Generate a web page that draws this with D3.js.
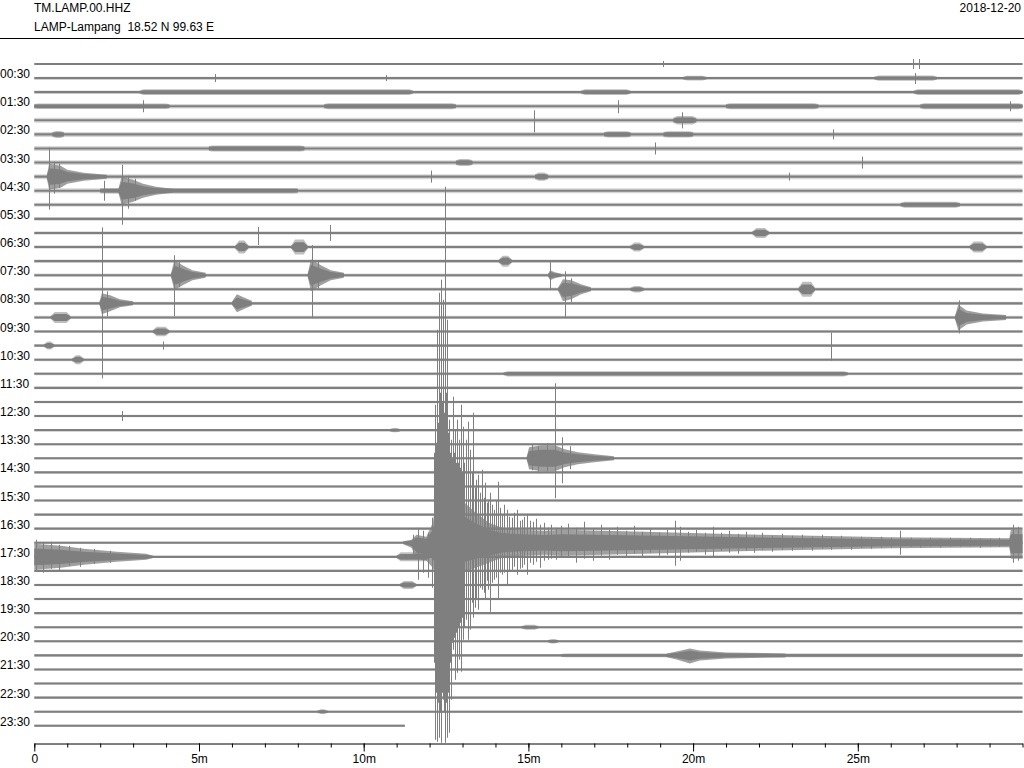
<!DOCTYPE html>
<html><head><meta charset="utf-8">
<script src="https://cdn.jsdelivr.net/npm/d3@7"></script>
<style>
body{margin:0;background:#fff}
svg{display:block}
text{font-family:"Liberation Sans",Arial,Helvetica,sans-serif;font-size:12px;fill:#000}
</style>
</head><body>
<svg id="chart" width="1024" height="768"></svg>
<script>
// ---------- DATA ----------
const stationLabel = "TM.LAMP.00.HHZ";
const siteLabel = "LAMP-Lampang  18.52 N 99.63 E";
const dateLabel = "2018-12-20";
const hourLabels = ["00:30","01:30","02:30","03:30","04:30","05:30","06:30","07:30","08:30","09:30","10:30","11:30",
  "12:30","13:30","14:30","15:30","16:30","17:30","18:30","19:30","20:30","21:30","22:30","23:30"];
const minuteTicks = d3.range(0, 31);
const majorTicks = [0, 5, 10, 15, 20, 25];
const lineIndex = d3.range(48);            // one trace per 30 minutes
const lineMinutes = 30;
const lastLineEnd = 11.25;                  // last trace stops at 11.25 min

// background noise half-amplitude per trace (counts)
const noiseLevel = [110,130,170,230,250,250,240,240,250,250,200,180,170,170,170,170,170,160,160,150,150,150,150,130,
  120,120,120,120,120,120,120,120,120,120,120,120,120,120,120,120,120,120,130,120,120,120,120,120];

// noisy stretches: [line, startMin, endMin, amplitude]
const bursts = [
  [1,19.7,20.4,230],[1,25.5,27.4,260],
  [2,3.2,11.5,290],[2,16.6,18.1,290],[2,26.7,30,290],
  [3,0,4.1,270],[3,8.8,12.8,290],[3,21.0,23.8,290],[3,26.9,30,290],
  [4,19.4,20.1,420],
  [5,0.55,0.9,350],[5,17.3,18.1,320],[5,19.1,20.0,320],
  [6,5.3,8.2,300],[7,12.8,13.3,350],[8,15.2,15.6,420],[9,2.0,8.0,280],
  [10,26.3,28.1,300],
  [12,21.8,22.3,500],
  [13,6.1,6.5,650],[13,7.8,8.3,750],[13,18.1,18.5,450],[13,28.4,28.9,550],
  [14,14.1,14.5,550],[16,18.1,18.5,320],[16,23.2,23.7,750],
  [18,0.5,1.1,550],[19,3.6,4.1,480],[20,0.3,0.6,400],[21,1.15,1.5,450],
  [22,14.25,24.7,260],[26,10.8,11.1,220],[35,11.0,12.0,450],[37,11.1,11.6,400],
  [40,14.8,15.3,240],[41,15.6,15.9,220],[42,16.0,30,180],[46,8.6,8.9,240]
];

// event envelopes: [line, [[minute, up, down], ...]]
const envelopes = [
  [8,[[0.38,150,150],[0.45,1300,1300],[0.8,1100,1100],[1.0,700,700],[1.5,400,400],[2.2,200,200]]],
  [9,[[2.55,150,150],[2.65,1400,1400],[3.0,1100,1100],[3.3,700,700],[3.7,400,400],[4.2,200,200]]],
  [15,[[4.15,150,150],[4.25,1500,1500],[4.5,1000,1000],[4.8,500,500],[5.2,250,250]]],
  [15,[[8.3,150,150],[8.4,1600,1600],[8.7,1000,1000],[9.0,500,500],[9.4,250,250]]],
  [15,[[15.6,150,150],[15.66,500,500],[15.8,300,300],[16.0,150,150]]],
  [16,[[15.9,150,150],[16.05,1000,1200],[16.3,900,1000],[16.6,500,500],[16.9,200,200]]],
  [17,[[1.98,150,150],[2.05,1000,1100],[2.3,800,800],[2.6,400,400],[3.0,200,200]]],
  [17,[[6.0,150,150],[6.15,900,900],[6.35,600,600],[6.6,250,250]]],
  [18,[[27.95,150,150],[28.05,1300,1300],[28.3,700,700],[28.8,400,400],[29.5,250,250]]],
  [28,[[14.95,150,150],[15.02,1100,1100],[15.4,1300,1300],[15.8,1300,1300],[16.1,900,900],[16.5,600,600],[17.0,400,400],[17.6,200,200]]],
  [34,[[11.2,150,150],[11.45,300,500],[11.6,800,1500],[11.9,600,1800],[12.1,2000,2500],[12.2,4500,3500],[12.6,5000,3500],
       [13.0,4200,3000],[13.4,3000,2500],[13.8,2000,2000],[14.2,1500,1500],[14.8,1300,1300],[15.5,1200,1200],[16.0,1300,1300],
       [18.5,1100,1100],[22.0,800,800],[26.0,550,550],[29.6,450,450],[29.65,1300,1600],[30,1300,1600]]],
  [35,[[0,1300,1300],[0.8,1100,1100],[1.5,800,800],[2.5,500,500],[3.4,300,300],[3.6,120,120]]],
  [42,[[19.2,180,180],[19.5,400,400],[19.9,700,800],[20.2,500,500],[21.0,300,300],[22.8,200,200]]]
];

// single spikes: [line, minute, up, down]
const spikes = [
  [0,19.09,300,300],[0,26.68,500,500],[0,26.86,500,500],
  [1,5.49,400,400],[1,10.68,300,300],[1,26.74,500,600],
  [3,3.30,600,600],[3,17.72,600,700],[3,29.62,500,500],
  [4,15.17,1000,1200],[4,19.66,800,800],[5,24.25,500,500],
  [6,18.84,600,600],[7,25.13,600,600],
  [8,0.44,2900,3300],[8,0.6,1500,1700],[8,0.75,1300,1100],[8,12.04,600,600],[8,22.9,400,400],
  [9,2.12,1000,1000],[9,2.66,2600,3400],[9,2.85,1500,1800],[9,3.05,1200,1000],
  [12,6.79,600,1200],[12,8.98,800,800],
  [15,4.25,2000,4100],[15,4.4,1400,1200],[15,8.42,3000,4300],[15,8.6,1500,1300],[15,15.66,1400,1400],
  [16,16.1,1800,2800],[16,16.3,1100,1300],[17,2.06,7600,7500],[17,2.2,1200,1300],[18,28.08,1700,1600],
  [20,3.9,400,400],[20,24.18,1300,1500],[25,2.66,500,500],
  [28,15.1,1400,1200],[28,15.3,1200,1500],[28,15.55,1500,1300],[28,15.82,7500,4000],[28,16.03,2100,2500],[28,16.25,1200,1100],
  [35,0.05,1700,1500],[35,0.25,1400,1600],[35,0.5,1500,1200],[35,0.75,1200,1400],[35,1.05,1100,900],[35,1.4,900,1000],[35,1.8,800,700],[35,2.3,600,600]
];

// main earthquake on trace 34: [minute, up, down]
const quakeLine = 34;
const quakeSpikes = [
  [11.50,800,1200],[11.65,1500,3700],[11.80,1200,3000],[11.95,1000,3500],[12.07,2500,4500],
  [12.13,9000,12000],[12.16,13800,19700],[12.19,10000,15000],[12.23,21300,19900],[12.26,12000,16000],
  [12.29,25000,19500],[12.32,15000,17000],[12.35,26300,20000],[12.38,14000,15000],[12.41,24300,15700],
  [12.44,13000,17000],[12.47,35600,20000],[12.50,15000,16000],[12.53,22300,19500],[12.56,11000,15000],
  [12.59,12300,19000],[12.62,9000,12000],[12.65,10300,15700],[12.68,8500,10000],[12.71,14600,10700],
  [12.74,9000,9500],[12.77,11300,13700],[12.80,8000,9000],[12.83,12300,13000],[12.86,8000,8500],
  [12.89,10300,11700],[12.92,7500,8000],[12.95,13800,12900],[12.98,7000,7500],[13.01,11600,9700],
  [13.06,8000,8500],[13.11,10300,7700],[13.17,12100,9700],[13.23,9300,8700],[13.28,7000,6000],[13.32,13000,7500],
  [13.37,5500,6500],[13.41,6300,5700],[13.47,6800,6700],[13.53,5000,4500],[13.59,7300,4700],[13.64,4500,5000],
  [13.68,6000,5700],[13.73,4000,3800],[13.77,4300,4700],[13.83,5000,6900],[13.9,3800,4000],
  [13.96,3300,3700],[14.02,4200,3500],[14.08,6100,5700],[14.14,3500,3000],[14.20,2800,3200],[14.27,3800,3000],
  [14.35,3300,4200],[14.42,2600,2800],[14.50,2500,2700],[14.57,3000,2400],[14.65,3300,3200],[14.73,2200,2600],
  [14.81,2300,2500],[14.88,2600,2200],[14.96,2800,3200],[15.05,2200,2000],[15.14,2100,2200],[15.24,2400,1900],
  [15.35,1800,2500],[15.47,2000,1800],[15.59,1500,1700],[15.7,1800,1600],[15.84,1500,1700],
  [16.0,1700,1500],[16.2,1900,1400],[16.45,1500,2000],[16.7,2100,1600],[16.95,1400,1800],[17.2,1800,1300],
  [17.45,1300,1700],[17.7,1600,1200],[17.95,1200,1500],[18.2,1700,1100],[18.45,1100,1400],[18.7,1400,1000],
  [18.95,1000,1300],[19.2,1300,1200],[19.45,2200,2300],[19.6,1600,1800],[19.85,1100,1000],[20.1,1300,900],
  [20.35,1000,1200],[20.6,1600,1500],[20.85,1000,800],[21.1,1200,1000],[21.35,900,1100],[21.6,1100,800],
  [21.85,800,1000],[22.1,1000,700],[22.4,700,900],[22.7,900,700],[23.0,700,800],[23.3,800,600],[23.6,600,800],
  [23.9,800,600],[24.2,600,700],[24.5,700,500],[24.8,500,700],[25.1,600,500],[25.4,500,600],[25.7,600,500],
  [26.0,500,500],[26.28,1200,1200],[26.6,500,400],[26.9,400,500],[27.2,500,400],[27.5,400,500],[27.8,500,400],
  [28.1,400,400],[28.4,500,400],[28.7,400,500],[29.0,400,400],[29.3,500,400],
  [29.7,1800,2000],[29.85,1600,1800]
];

// ---------- DRAW ----------
const traceColor = "#7f7f7f";
const coreHalf = 105;        // counts: solid core half width of every trace
const coreShare = 0.65;      // share of an envelope drawn as solid core
const haloOpacity = 0.75;
const taper = 0.12;          // minutes used to ramp a noisy stretch in and out

const svg = d3.select("#chart");
const x = d3.scaleLinear().domain([0, lineMinutes]).range([34.3, 1022.5]);
const y = d3.scalePoint().domain(lineIndex).range([64, 725.8]);
const amp = d3.scaleLinear().domain([0, 100]).range([0, 1]);   // 100 counts per pixel

// header
svg.append("text").attr("x", 34).attr("y", 12).text(stationLabel);
svg.append("text").attr("x", 34).attr("y", 31).style("white-space", "pre").text(siteLabel);
svg.append("text").attr("x", 1021).attr("y", 12).attr("text-anchor", "end").text(dateLabel);
svg.append("line").attr("x1", 0).attr("x2", 1024).attr("y1", 38.5).attr("y2", 38.5)
  .attr("stroke", "#000").attr("stroke-width", 1);

// hour labels on every second trace
svg.append("g").selectAll("text").data(hourLabels).join("text")
  .attr("x", 0).attr("y", (d, i) => y(2 * i + 1)).text(d => d);

const traces = svg.append("g");
const bandArea = (line, k) => d3.area()
  .x(d => x(d[0]))
  .y0(d => y(line) + amp(Math.max(coreHalf, d[2] * k)))
  .y1(d => y(line) - amp(Math.max(coreHalf, d[1] * k)));

function drawBand(line, pts, halo) {
  traces.append("path").attr("d", bandArea(line, 1)(pts))
    .attr("fill", traceColor).attr("fill-opacity", halo);
  traces.append("path").attr("d", bandArea(line, coreShare)(pts))
    .attr("fill", traceColor);
}

// baseline traces
lineIndex.forEach(i => {
  const end = i === 47 ? lastLineEnd : lineMinutes;
  const n = noiseLevel[i];
  traces.append("path").attr("d", bandArea(i, 1)([[0, n, n], [end, n, n]]))
    .attr("fill", traceColor).attr("fill-opacity", 0.3);
  traces.append("path").attr("d", bandArea(i, 0)([[0, 0, 0], [end, 0, 0]]))
    .attr("fill", traceColor);
});

// noisy stretches (ramped at both ends)
bursts.forEach(([ln, s, e, a]) => {
  const t = Math.min(taper, (e - s) / 3);
  const b = noiseLevel[ln];
  drawBand(ln, [[s, b, b], [s + t, a, a], [e - t, a, a], [e, b, b]], 0.5);
});

// event envelopes
envelopes.forEach(([ln, pts]) => drawBand(ln, pts, haloOpacity));

// spikes
const spikeData = spikes.concat(quakeSpikes.map(d => [quakeLine, d[0], d[1], d[2]]));
traces.selectAll("line.spike").data(spikeData).join("line")
  .attr("class", "spike")
  .attr("x1", d => Math.round(x(d[1])) + 0.5).attr("x2", d => Math.round(x(d[1])) + 0.5)
  .attr("y1", d => y(d[0]) - amp(d[2]))
  .attr("y2", d => y(d[0]) + amp(d[3]))
  .attr("stroke", traceColor).attr("stroke-width", 1);

// time axis
const axisY = 743.5;
svg.append("g").attr("transform", `translate(0,${axisY})`)
  .call(d3.axisBottom(x).tickValues(minuteTicks).tickSize(4).tickSizeOuter(0).tickFormat(""))
  .call(g => g.selectAll("path,line").attr("stroke", "#000"));
svg.append("g").attr("transform", `translate(0,${axisY})`)
  .call(d3.axisBottom(x).tickValues(majorTicks).tickSize(8).tickSizeOuter(0)
    .tickFormat(d => d === 0 ? "0" : d + "m"))
  .call(g => g.select(".domain").remove())
  .call(g => g.selectAll("line").attr("stroke", "#000"))
  .call(g => g.selectAll("text").attr("font-size", null).attr("font-family", null).attr("fill", "#000"));
</script>
</body></html>
